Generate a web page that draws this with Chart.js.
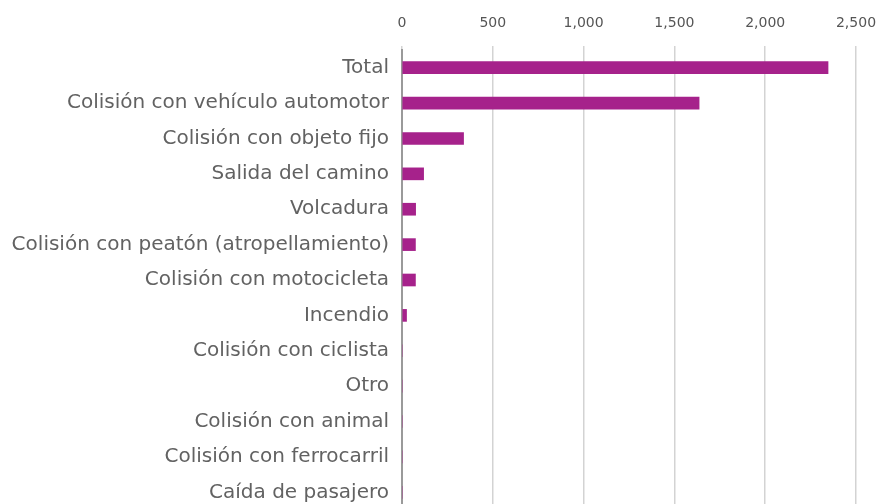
<!DOCTYPE html>
<html>
<head>
<meta charset="utf-8">
<script src="https://cdn.jsdelivr.net/npm/chart.js@4/dist/chart.umd.min.js"></script>
<style>
  html, body { margin: 0; padding: 0; background: #fff; overflow: hidden; }
</style>
</head>
<body>
<canvas id="grafica" width="880" height="510"></canvas>
<script>
// tipos de accidente
var categorias = [
  'Total',
  'Colisión con vehículo automotor',
  'Colisión con objeto fijo',
  'Salida del camino',
  'Volcadura',
  'Colisión con peatón (atropellamiento)',
  'Colisión con motocicleta',
  'Incendio',
  'Colisión con ciclista',
  'Otro',
  'Colisión con animal',
  'Colisión con ferrocarril',
  'Caída de pasajero'
];
var valores = [2346, 1636, 339, 119, 75, 74, 74, 25, 0, 0, 0, 0, 0];
var ticksX = [0, 500, 1000, 1500, 2000, 2500];

var fuente = "'DejaVu Sans', sans-serif";

new Chart(document.getElementById('grafica'), {
  type: 'bar',
  data: {
    labels: categorias,
    datasets: [{
      data: valores,
      backgroundColor: '#a6228b',
      barThickness: 12
    }]
  },
  options: {
    indexAxis: 'y',
    responsive: false,
    animation: false,
    layout: { padding: { top: 0, left: 0, right: 24, bottom: 0 } },
    plugins: { legend: { display: false }, tooltip: { enabled: false } },
    scales: {
      x: {
        position: 'top',
        min: 0,
        max: 2500,
        afterBuildTicks: function (eje) {
          eje.ticks = ticksX.map(function (v) { return { value: v }; });
        },
        afterFit: function (eje) {
          eje.height = 50;
          eje.paddingLeft = 0;
          eje.paddingRight = 0;
        },
        border: { display: false },
        grid: { color: '#d3d3d3', lineWidth: 1.5, tickLength: 4 },
        ticks: {
          color: '#555',
          padding: 14,
          font: { family: fuente, size: 14 }
        }
      },
      y: {
        afterFit: function (eje) {
          eje.width = 402;
          eje.paddingTop = 0;
          eje.paddingBottom = 0;
        },
        border: { display: true, color: '#9a9a9a', width: 2 },
        grid: { display: false, drawTicks: false },
        ticks: {
          color: '#626262',
          padding: 13,
          autoSkip: false,
          font: { family: fuente, size: 20 }
        }
      }
    }
  }
});
</script>
</body>
</html>
